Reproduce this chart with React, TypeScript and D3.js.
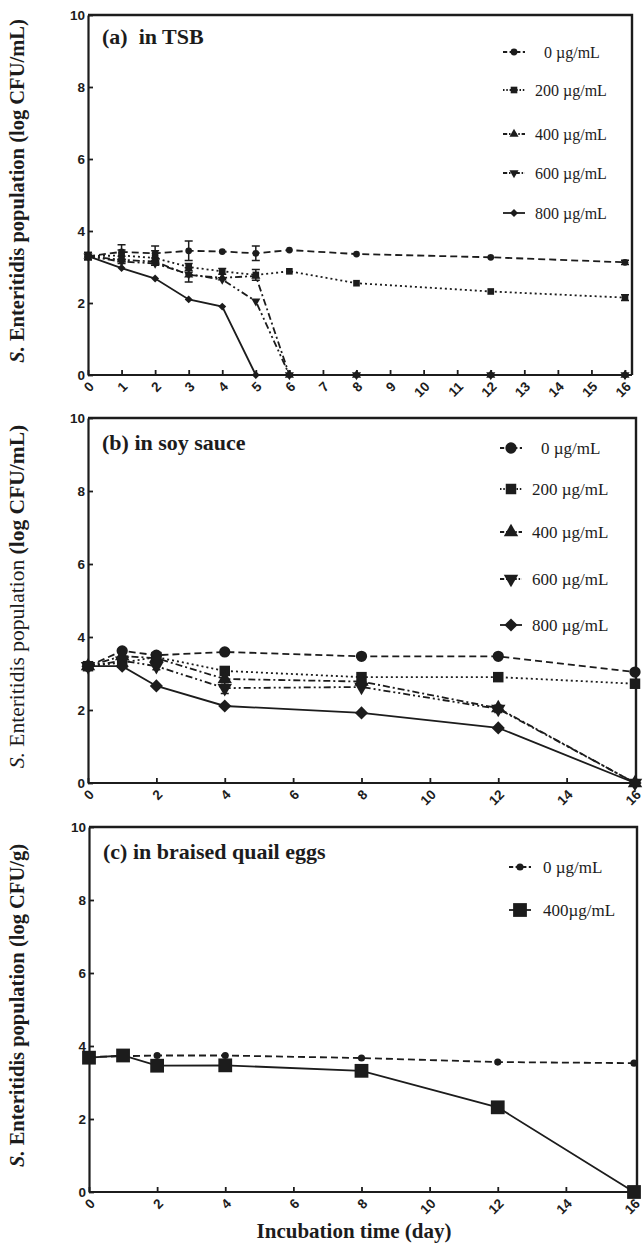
import React, { useEffect, useRef } from 'react'
import * as d3 from 'd3'

// panel (a) in TSB
const daysTSB = [0, 1, 2, 3, 4, 5, 6, 8, 12, 16]
const tsb0 = [3.3, 3.42, 3.38, 3.45, 3.43, 3.38, 3.47, 3.36, 3.27, 3.13]
const tsb200 = [3.3, 3.32, 3.25, 3.0, 2.88, 2.78, 2.88, 2.55, 2.32, 2.15]
const tsb400 = [3.3, 3.2, 3.15, 2.78, 2.7, 2.75, 0, 0, 0, 0]
const tsb600 = [3.3, 3.15, 3.1, 2.8, 2.65, 2.05, 0, 0, 0, 0]
const tsb800 = [3.3, 2.97, 2.68, 2.1, 1.9, 0, 0, 0, 0, 0]
const tsb0Err = [0.1, 0.2, 0.2, 0.27, 0.03, 0.2, 0.03, 0.03, 0.03, 0.06]
const tsb200Err = [0.1, 0.15, 0.2, 0.1, 0.08, 0.15, 0.05, 0.05, 0.05, 0.08]
const tsb400Err = [0, 0.1, 0.1, 0.2, 0.05, 0.05, 0, 0, 0, 0]
const ticksTSB = d3.range(0, 17)

// panel (b) in soy sauce
const daysSoy = [0, 1, 2, 4, 8, 12, 16]
const soy0 = [3.2, 3.62, 3.5, 3.59, 3.47, 3.47, 3.04]
const soy200 = [3.2, 3.3, 3.45, 3.07, 2.9, 2.9, 2.72]
const soy400 = [3.2, 3.48, 3.42, 2.85, 2.78, 2.05, 0]
const soy600 = [3.2, 3.35, 3.2, 2.6, 2.63, 2.03, 0]
const soy800 = [3.2, 3.2, 2.66, 2.11, 1.92, 1.51, 0]
const soy600Err = [0, 0.05, 0.1, 0.15, 0.05, 0.1, 0]

// panel (c) in braised quail eggs
const daysQuail = [0, 1, 2, 4, 8, 12, 16]
const quail0 = [3.7, 3.72, 3.74, 3.74, 3.67, 3.56, 3.53]
const quail400 = [3.68, 3.74, 3.46, 3.47, 3.32, 2.32, 0]

const ticksEven = [0, 2, 4, 6, 8, 10, 12, 14, 16]
const yTicks = [0, 2, 4, 6, 8, 10]
const concLabels = ['0 µg/mL', '200 µg/mL', '400 µg/mL', '600 µg/mL', '800 µg/mL']

const ink = '#1c1c1c'
const serif = "'Liberation Serif','Times New Roman',serif"
const sans = "'Liberation Sans Narrow','Liberation Sans',Arial,sans-serif"

const dashes = {
  dash: '7,4',
  dot: '2,3',
  dashdot: '7,3,2,3',
  dashdotdot: '7,3,2,3,2,3',
  solid: null,
}

const diamond = d3.symbolDiamond2 || d3.symbolDiamond

function symbolPath(shape, size) {
  if (shape === 'circle') return d3.symbol(d3.symbolCircle, size)()
  if (shape === 'square') return d3.symbol(d3.symbolSquare, size)()
  if (shape === 'triangle' || shape === 'down') return d3.symbol(d3.symbolTriangle, size)()
  return d3.symbol(diamond, size)()
}

function drawPanel(svg, p) {
  const x = d3.scaleLinear().domain([0, 16]).range([p.left, p.right])
  const y = d3.scaleLinear().domain([0, 10]).range([p.bottom, p.top])
  const g = svg.append('g')

  // frame
  g.append('path')
    .attr('d', `M${p.left},${p.top}H${p.frameRight}V${p.bottom}`)
    .attr('fill', 'none').attr('stroke', ink).attr('stroke-width', 2.4)

  const xAxis = d3.axisBottom(x).tickValues(p.xTicks).tickSize(-5).tickSizeOuter(0)
  const yAxis = d3.axisLeft(y).tickValues(yTicks).tickSize(-5).tickSizeOuter(0).tickPadding(3)

  const xg = g.append('g').attr('transform', `translate(0,${p.bottom})`).call(xAxis)
  xg.select('.domain').attr('d', `M${p.left},0H${p.frameRight}`)
  xg.selectAll('text')
    .attr('y', 0).attr('x', 0).attr('dy', '0.35em')
    .attr('text-anchor', 'end')
    .attr('transform', 'translate(3,9) rotate(-45)')
  const yg = g.append('g').attr('transform', `translate(${p.left},0)`).call(yAxis)
  ;[xg, yg].forEach(a => {
    a.select('.domain').attr('stroke', ink).attr('stroke-width', 2.2)
    a.selectAll('.tick line').attr('stroke', ink).attr('stroke-width', 1.8)
    a.selectAll('text').attr('fill', ink).style('font-family', sans)
      .style('font-weight', 'bold').style('font-size', '13.5px')
  })

  // series
  p.series.forEach(s => {
    const pts = p.days.map((d, i) => [d, s.values[i]])
    const line = d3.line().x(d => x(d[0])).y(d => y(d[1]))
    g.append('path').attr('d', line(pts))
      .attr('fill', 'none').attr('stroke', ink).attr('stroke-width', 1.8)
      .attr('stroke-dasharray', dashes[s.style])
    if (s.err) {
      pts.forEach((d, i) => {
        const e = s.err[i]
        if (!e || e < 0.06) return
        const cx = x(d[0])
        g.append('path')
          .attr('d', `M${cx},${y(d[1] - e)}V${y(d[1] + e)}M${cx - 4},${y(d[1] - e)}h8M${cx - 4},${y(d[1] + e)}h8`)
          .attr('stroke', ink).attr('stroke-width', 1.5).attr('fill', 'none')
      })
    }
    g.selectAll(null).data(pts).enter().append('path')
      .attr('d', symbolPath(s.shape, s.size))
      .attr('transform', d => `translate(${x(d[0])},${y(d[1])})${s.shape === 'down' ? ' rotate(180)' : ''}`)
      .attr('fill', ink)
  })

  // legend
  p.series.forEach((s, i) => {
    const ly = p.legendY[i]
    g.append('line')
      .attr('x1', p.legendX).attr('x2', p.legendX + 22).attr('y1', ly).attr('y2', ly)
      .attr('stroke', ink).attr('stroke-width', 1.8)
      .attr('stroke-dasharray', s.style === 'solid' ? null : dashes[s.style].split(',').map(v => Math.max(1.5, +v * 0.6)).join(','))
    g.append('path')
      .attr('d', symbolPath(s.shape, s.size))
      .attr('transform', `translate(${p.legendX + 11},${ly})${s.shape === 'down' ? ' rotate(180)' : ''}`)
      .attr('fill', ink)
    g.append('text')
      .attr('x', p.legendX + 32 + (s.indent || 0)).attr('y', ly).attr('dy', '0.35em')
      .attr('fill', ink).style('font-family', serif).style('font-size', p.legendFont + 'px')
      .text(s.label)
  })

  // panel title
  g.append('text').attr('x', p.left + 14).attr('y', p.titleY)
    .attr('fill', ink).style('font-family', serif).style('font-weight', 'bold').style('font-size', '22px')
    .attr('xml:space', 'preserve')
    .text(p.title)

  // y title
  const yt = g.append('text')
    .attr('transform', `translate(24,${(p.top + p.bottom) / 2 - 4}) rotate(-90)`)
    .attr('text-anchor', 'middle').attr('fill', ink)
    .style('font-family', serif).style('font-size', p.yTitleSize + 'px')
    .style('font-weight', p.yTitleWeight)
  yt.append('tspan').style('font-style', 'italic').text('S.')
  yt.append('tspan').text(' Enteritidis population ')
  yt.append('tspan').style('font-weight', 'bold').text(p.yUnit)
}

export default function App() {
  const ref = useRef(null)

  useEffect(() => {
    const svg = d3.select(ref.current)
    svg.selectAll('*').remove()

    drawPanel(svg, {
      top: 15, bottom: 375, left: 88, right: 625, frameRight: 632,
      xTicks: ticksTSB, days: daysTSB,
      title: '(a)  in TSB', titleY: 44,
      yTitleSize: 20.5, yTitleWeight: 'bold', yUnit: '(log CFU/mL)',
      legendX: 503, legendY: [52, 90, 134, 173, 213], legendFont: 16,
      series: [
        { values: tsb0, err: tsb0Err, style: 'dash', shape: 'circle', size: 36, label: concLabels[0], indent: 9 },
        { values: tsb200, err: tsb200Err, style: 'dot', shape: 'square', size: 44, label: concLabels[1] },
        { values: tsb400, err: tsb400Err, style: 'dashdot', shape: 'triangle', size: 36, label: concLabels[2] },
        { values: tsb600, style: 'dashdotdot', shape: 'down', size: 36, label: concLabels[3] },
        { values: tsb800, style: 'solid', shape: 'diamond', size: 40, label: concLabels[4] },
      ],
    })

    drawPanel(svg, {
      top: 418, bottom: 783, left: 88, right: 635, frameRight: 636,
      xTicks: ticksEven, days: daysSoy,
      title: '(b) in soy sauce', titleY: 450,
      yTitleSize: 21.5, yTitleWeight: 'normal', yUnit: '(log CFU/mL)',
      legendX: 500, legendY: [448, 489, 532, 579, 625], legendFont: 17,
      series: [
        { values: soy0, style: 'dash', shape: 'circle', size: 100, label: concLabels[0], indent: 9 },
        { values: soy200, style: 'dot', shape: 'square', size: 110, label: concLabels[1] },
        { values: soy400, style: 'dashdot', shape: 'triangle', size: 90, label: concLabels[2] },
        { values: soy600, err: soy600Err, style: 'dashdotdot', shape: 'down', size: 90, label: concLabels[3] },
        { values: soy800, style: 'solid', shape: 'diamond', size: 110, label: concLabels[4] },
      ],
    })

    drawPanel(svg, {
      top: 827, bottom: 1192, left: 89, right: 634, frameRight: 637,
      xTicks: ticksEven, days: daysQuail,
      title: '(c) in braised quail eggs', titleY: 859,
      yTitleSize: 20.5, yTitleWeight: 'bold', yUnit: '(log CFU/g)',
      legendX: 509, legendY: [867, 910], legendFont: 17,
      series: [
        { values: quail0, style: 'dash', shape: 'circle', size: 40, label: '0 µg/mL', indent: 2 },
        { values: quail400, style: 'solid', shape: 'square', size: 190, label: '400µg/mL', indent: 2 },
      ],
    })

    svg.append('text').attr('x', 354).attr('y', 1238)
      .attr('text-anchor', 'middle').attr('fill', ink)
      .style('font-family', serif).style('font-weight', 'bold').style('font-size', '21px')
      .text('Incubation time (day)')
  }, [])

  return (
    <svg ref={ref} width={643} height={1247}
      style={{ position: 'absolute', left: 0, top: 0, background: '#fff' }} />
  )
}
